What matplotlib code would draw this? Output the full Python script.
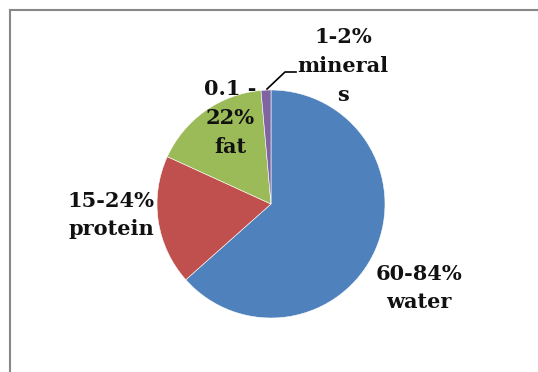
import matplotlib
matplotlib.use("Agg")
import matplotlib.pyplot as plt
from matplotlib.lines import Line2D

# Composition of fish flesh (share of the pie, in %)
components = ["water", "protein", "fat", "minerals"]
shares = [63.5, 18.4, 16.8, 1.4]
labels = ["60-84%\nwater", "15-24%\nprotein", "0.1 -\n22%\nfat", "1-2%\nmineral\ns"]
colors = ["#4F81BD", "#C0504D", "#9BBB59", "#8064A2"]

W, H = 538, 372
fig = plt.figure(figsize=(W / 100, H / 100), dpi=100)
ax = fig.add_axes([0, 0, 1, 1])

cx, cy, r = 271, H - 204, 114
ax.pie(shares, colors=colors, startangle=90, counterclock=False,
       center=(cx, cy), radius=r, frame=True,
       wedgeprops=dict(edgecolor="white", linewidth=0.4))
ax.set_xlim(0, W)
ax.set_ylim(0, H)
ax.set_aspect("equal")
ax.axis("off")

font = dict(family="DejaVu Serif", weight="bold", fontsize=15,
            ha="center", va="center", linespacing=1.55, color="#111111")
label_pos = [(419, H - 288), (111, H - 215), (230, H - 118), (343, H - 66)]
for text, (x, y) in zip(labels, label_pos):
    ax.text(x, y, text, **font)

# leader line for the minerals label
ax.add_line(Line2D([267, 285, 296], [H - 89, H - 72, H - 72],
                   color="black", linewidth=1.2))

# chart frame
ax.add_line(Line2D([9.5, 9.5], [0, H - 10], color="#888888", linewidth=1.5))
ax.add_line(Line2D([9.5, W], [H - 10, H - 10], color="#888888", linewidth=1.5))

fig.savefig("out.png", dpi=100)
